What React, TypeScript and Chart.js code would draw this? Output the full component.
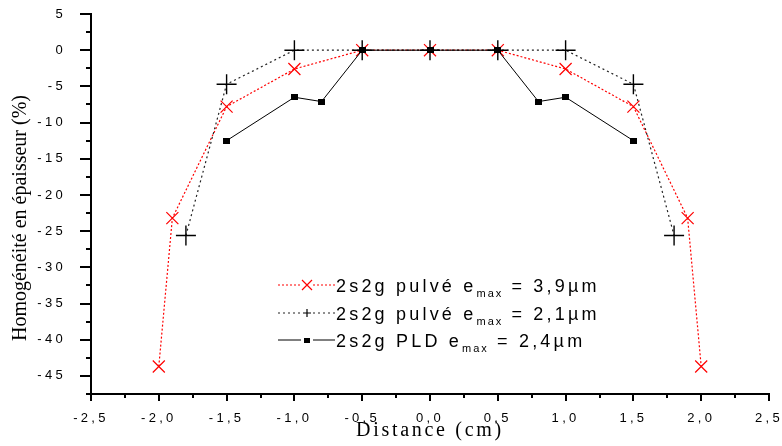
import React, { useEffect, useRef } from 'react';
import { Chart, registerables } from 'chart.js';

Chart.register(...registerables);

// ---- Data ----
const xPulve39 = [-2.0, -1.9, -1.5, -1.0, -0.5, 0.0, 0.5, 1.0, 1.5, 1.9, 2.0];
const yPulve39 = [-43.7, -23.2, -7.8, -2.6, 0, 0, 0, -2.6, -7.8, -23.2, -43.7];

const xPulve21 = [-1.8, -1.5, -1.0, -0.5, 0.0, 0.5, 1.0, 1.5, 1.8];
const yPulve21 = [-25.6, -4.7, 0, 0, 0, 0, 0, -4.7, -25.6];

const xPLD = [-1.5, -1.0, -0.8, -0.5, 0.0, 0.5, 0.8, 1.0, 1.5];
const yPLD = [-12.5, -6.5, -7.1, 0, 0, 0, -7.1, -6.5, -12.5];

const xMajorTicks = [-2.5, -2.0, -1.5, -1.0, -0.5, 0, 0.5, 1.0, 1.5, 2.0, 2.5];
const yMajorTicks = [5, 0, -5, -10, -15, -20, -25, -30, -35, -40, -45];

const seriesNames = ['2s2g pulvé e', '2s2g pulvé e', '2s2g PLD e'];
const seriesSub = ['max', 'max', 'max'];
const seriesValues = [' = 3,9µm', ' = 2,1µm', ' = 2,4µm'];

const xTitle = 'Distance (cm)';
const yTitle = 'Homogénéité en épaisseur (%)';

const toPoints = (xs: number[], ys: number[]) => xs.map((x, i) => ({ x, y: ys[i] }));
const fmtX = (v: number) => v.toFixed(1).replace('.', ',');

const SANS = '"Liberation Sans", Arial, sans-serif';
const SERIF = '"Liberation Serif", "Times New Roman", serif';

const zeroPad = (s: any) => {
  s.paddingTop = 0;
  s.paddingBottom = 0;
  s.paddingLeft = 0;
  s.paddingRight = 0;
};

export default function App() {
  const ref = useRef<HTMLCanvasElement | null>(null);

  useEffect(() => {
    const canvas = ref.current;
    if (!canvas) return;

    const sq = document.createElement('canvas');
    sq.width = 7;
    sq.height = 6;
    const sctx = sq.getContext('2d')!;
    sctx.fillStyle = '#000';
    sctx.fillRect(0, 0, 7, 6);

    const decor = {
      id: 'decor',
      beforeDraw(chart: any) {
        (chart.ctx as any).letterSpacing = '3.3px';
      },
      afterDraw(chart: any) {
        const ctx = chart.ctx as any;
        const { chartArea } = chart;
        const xs = chart.scales.x;
        const ys = chart.scales.y;
        ctx.save();
        ctx.letterSpacing = '0px';
        ctx.strokeStyle = '#000';
        ctx.lineWidth = 2;
        ctx.setLineDash([]);
        // y ticks (major + minor)
        yMajorTicks.forEach((v) => {
          const py = Math.round(ys.getPixelForValue(v));
          ctx.beginPath();
          ctx.moveTo(chartArea.left - 11, py);
          ctx.lineTo(chartArea.left, py);
          ctx.stroke();
          const m = v - 2.5;
          if (m >= ys.min) {
            const pm = Math.round(ys.getPixelForValue(m));
            ctx.beginPath();
            ctx.moveTo(chartArea.left - 5, pm);
            ctx.lineTo(chartArea.left, pm);
            ctx.stroke();
          }
        });
        // x ticks (major + minor)
        xMajorTicks.forEach((v, i) => {
          const px = Math.round(xs.getPixelForValue(v));
          ctx.beginPath();
          ctx.moveTo(px, chartArea.bottom);
          ctx.lineTo(px, chartArea.bottom + 7);
          ctx.stroke();
          if (i < xMajorTicks.length - 1) {
            const pm = Math.round(xs.getPixelForValue(v + 0.25));
            ctx.beginPath();
            ctx.moveTo(pm, chartArea.bottom);
            ctx.lineTo(pm, chartArea.bottom + 4);
            ctx.stroke();
          }
        });

        // axis titles
        ctx.fillStyle = '#000';
        ctx.font = `20px ${SERIF}`;
        ctx.textAlign = 'center';
        ctx.textBaseline = 'alphabetic';
        ctx.letterSpacing = '2.7px';
        ctx.fillText(xTitle, (chartArea.left + chartArea.right) / 2, 436);
        ctx.letterSpacing = '0px';
        ctx.save();
        ctx.translate(26, 218);
        ctx.rotate(-Math.PI / 2);
        ctx.fillText(yTitle, 0, 0);
        ctx.restore();

        // legend
        const lx0 = 278;
        const lx1 = 335;
        const mx = 307;
        const baselines = [292, 320, 347];
        const styles = [
          { color: '#ff0000', dash: [2, 2], width: 1.2 },
          { color: '#222', dash: [2, 3], width: 1.2 },
          { color: '#000', dash: [], width: 1 },
        ];
        baselines.forEach((by, i) => {
          const ly = by - 7;
          const st = styles[i];
          ctx.strokeStyle = st.color;
          ctx.lineWidth = st.width;
          ctx.setLineDash(st.dash);
          ctx.beginPath();
          ctx.moveTo(lx0, ly);
          ctx.lineTo(mx - 6, ly);
          ctx.moveTo(mx + 6, ly);
          ctx.lineTo(lx1, ly);
          ctx.stroke();
          ctx.setLineDash([]);
          if (i === 0) {
            ctx.strokeStyle = '#ff0000';
            ctx.lineWidth = 1.2;
            ctx.beginPath();
            ctx.moveTo(mx - 5, ly - 5);
            ctx.lineTo(mx + 5, ly + 5);
            ctx.moveTo(mx - 5, ly + 5);
            ctx.lineTo(mx + 5, ly - 5);
            ctx.stroke();
          } else if (i === 1) {
            ctx.strokeStyle = '#000';
            ctx.lineWidth = 1.2;
            ctx.beginPath();
            ctx.moveTo(mx - 4, ly);
            ctx.lineTo(mx + 4, ly);
            ctx.moveTo(mx, ly - 4);
            ctx.lineTo(mx, ly + 4);
            ctx.stroke();
          } else {
            ctx.fillStyle = '#000';
            ctx.fillRect(mx - 3, ly - 2, 6, 5);
          }
          // text
          ctx.fillStyle = '#000';
          ctx.textAlign = 'left';
          ctx.textBaseline = 'alphabetic';
          ctx.font = `18px ${SANS}`;
          ctx.letterSpacing = '3.2px';
          let tx = 336;
          ctx.fillText(seriesNames[i], tx, by);
          tx += ctx.measureText(seriesNames[i]).width;
          ctx.font = `11px ${SANS}`;
          ctx.letterSpacing = '2px';
          ctx.fillText(seriesSub[i], tx, by + 5);
          tx += ctx.measureText(seriesSub[i]).width;
          ctx.font = `18px ${SANS}`;
          ctx.letterSpacing = '3.2px';
          ctx.fillText(seriesValues[i], tx, by);
        });
        ctx.restore();
        ctx.letterSpacing = '0px';
      },
    };

    const chart = new Chart(canvas, {
      type: 'line',
      data: {
        datasets: [
          {
            label: seriesNames[2] + seriesSub[2] + seriesValues[2],
            data: toPoints(xPLD, yPLD),
            borderColor: '#000',
            borderWidth: 1,
            pointStyle: sq as any,
            pointRadius: 4,
            backgroundColor: '#000',
            order: 0,
          },
          {
            label: seriesNames[1] + seriesSub[1] + seriesValues[1],
            data: toPoints(xPulve21, yPulve21),
            borderColor: '#222',
            borderWidth: 1.2,
            borderDash: [2, 3],
            pointStyle: 'cross',
            pointRadius: 10,
            pointBorderWidth: 1.4,
            pointBorderColor: '#000',
            order: 1,
          },
          {
            label: seriesNames[0] + seriesSub[0] + seriesValues[0],
            data: toPoints(xPulve39, yPulve39),
            borderColor: '#ff0000',
            borderWidth: 1.2,
            borderDash: [2, 2],
            pointStyle: 'crossRot',
            pointRadius: 8.5,
            pointBorderWidth: 1.2,
            pointBorderColor: '#ff0000',
            order: 2,
          },
        ],
      },
      options: {
        animation: false,
        responsive: false,
        devicePixelRatio: 1,
        layout: { padding: { top: 14, right: 13, left: 0, bottom: 0 } },
        plugins: { legend: { display: false }, tooltip: { enabled: false } },
        elements: { line: { tension: 0 } },
        scales: {
          x: {
            type: 'linear',
            min: -2.5,
            max: 2.5,
            grid: { display: false },
            border: { display: true, color: '#000', width: 2 },
            afterFit: (s: any) => {
              s.height = 52;
              zeroPad(s);
            },
            ticks: {
              stepSize: 0.5,
              autoSkip: false,
              maxRotation: 0,
              padding: 9,
              color: '#000',
              font: { family: SANS, size: 13 },
              callback: (v: any) => fmtX(Number(v)),
            },
          },
          y: {
            type: 'linear',
            min: -47.5,
            max: 5,
            grid: { display: false },
            border: { display: true, color: '#000', width: 2 },
            afterFit: (s: any) => {
              s.width = 91;
              zeroPad(s);
            },
            ticks: {
              stepSize: 5,
              autoSkip: false,
              padding: 17,
              color: '#000',
              font: { family: SANS, size: 13 },
              callback: (v: any) => {
                const n = Number(v);
                return Math.abs(n % 5) < 1e-9 ? String(n) : '';
              },
            },
          },
        },
      },
      plugins: [decor],
    });

    return () => {
      chart.destroy();
    };
  }, []);

  return (
    <div style={{ position: 'fixed', left: 0, top: 0, width: 782, height: 446, background: '#fff' }}>
      <canvas ref={ref} width={782} height={446} style={{ display: 'block', width: 782, height: 446 }} />
    </div>
  );
}
